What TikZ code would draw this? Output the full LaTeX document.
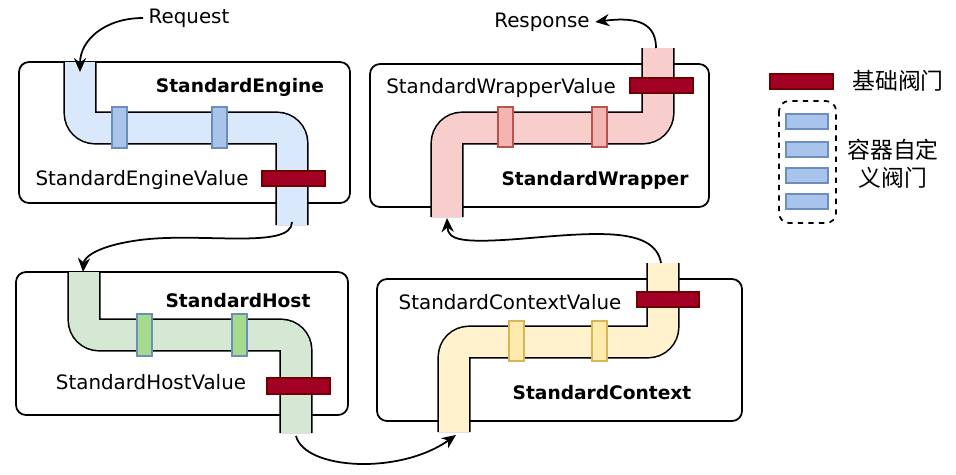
\documentclass[tikz,border=0pt]{standalone}
\usepackage{fontspec}
\setmainfont{DejaVu Sans}
\newfontfamily\cjk{Noto Sans CJK SC}
\usetikzlibrary{arrows.meta}
\definecolor{engfill}{HTML}{DAE8FC}
\definecolor{engvalve}{HTML}{A9C4EB}
\definecolor{engline}{HTML}{6C8EBF}
\definecolor{hostfill}{HTML}{D5E8D4}
\definecolor{hostvalve}{HTML}{A6DB8E}
\definecolor{ctxfill}{HTML}{FFF2CC}
\definecolor{ctxvalve}{HTML}{FFEAAE}
\definecolor{ctxline}{HTML}{D6B656}
\definecolor{wrapfill}{HTML}{F8CECC}
\definecolor{wrapvalve}{HTML}{F4B4B2}
\definecolor{wrapline}{HTML}{B85450}
\definecolor{basefill}{HTML}{A20025}
\definecolor{baseline}{HTML}{6F0000}
\newcommand{\pipe}[2]{\draw[pipeedge] #2; \draw[pipebody,#1] #2;}

\begin{document}
\begin{tikzpicture}[x=0.02cm,y=-0.02cm,>={Stealth[length=8pt,width=7pt]},
  box/.style={draw,line width=1pt,rounded corners=0.2cm,fill=white},
  pipeedge/.style={line width=18.8pt,rounded corners=0.3cm},
  pipebody/.style={line width=17pt,rounded corners=0.3cm},
  valve/.style={line width=0.9pt},
  basevalve/.style={line width=0.9pt,fill=basefill,draw=baseline},
  lbl/.style={font=\fontsize{11.3}{13}\selectfont,inner sep=0pt},
  title/.style={font=\fontsize{10.6}{13}\selectfont\bfseries,inner sep=0pt},
  flow/.style={->,line width=1pt}]
\useasboundingbox (0,0) rectangle (956,474);

\draw[box] (19,62) rectangle (350,203);
\draw[box] (370,64) rectangle (709,207);
\draw[box] (16,272) rectangle (348,415);
\draw[box] (377,279) rectangle (742,421);

\pipe{engfill}{(80,62) -- (80,128) -- (292,128) -- (292,225)}
\pipe{wrapfill}{(447,217) -- (447,128) -- (658,128) -- (658,48)}
\pipe{hostfill}{(84,272) -- (84,335) -- (296,335) -- (296,433)}
\pipe{ctxfill}{(454,432) -- (454,342) -- (663,342) -- (663,263)}

\foreach \x in {112,212} \draw[valve,fill=engvalve,draw=engline] (\x,107) rectangle ++(15,41);
\foreach \x in {498,592} \draw[valve,fill=wrapvalve,draw=wrapline] (\x,107) rectangle ++(15,40);
\foreach \x in {137,232} \draw[valve,fill=hostvalve,draw=engline] (\x,314) rectangle ++(15,42);
\foreach \x in {509,592} \draw[valve,fill=ctxvalve,draw=ctxline] (\x,321) rectangle ++(15,40);

\draw[basevalve] (262,171) rectangle (325,186);
\draw[basevalve] (630,78) rectangle (693,93);
\draw[basevalve] (267,378) rectangle (330,394);
\draw[basevalve] (637,292) rectangle (699,307);

\node[title] (engName) at (240,87) {StandardEngine};
\node[lbl] (engValve) at (142,180) {StandardEngineValue};
\node[lbl] (wrapValve) at (501,88) {StandardWrapperValue};
\node[title] (wrapName) at (595,180) {StandardWrapper};
\node[title] (hostName) at (238,301) {StandardHost};
\node[lbl] (hostValve) at (151,382) {StandardHostValue};
\node[lbl] (ctxValve) at (510,302) {StandardContextValue};
\node[title] (ctxName) at (602,393) {StandardContext};

% request / response
\node[lbl] (req) at (189,18) {Request};
\node[lbl] (res) at (542,22) {Response};

\coordinate (engIn) at (80,72);
\coordinate (engOut) at (292,222);
\coordinate (hostIn) at (83,272);
\coordinate (hostOut) at (296,436);
\coordinate (ctxIn) at (456,435);
\coordinate (ctxOut) at (661,263);
\coordinate (wrapIn) at (447,218);
\coordinate (wrapOut) at (656,48);

\draw[flow] ([xshift=-3pt]req.west) .. controls (105,18) and (80,40) .. (engIn);
\draw[flow] (engOut) .. controls (292,250) and (200,232) .. (140,240) .. controls (95,246) and (84,258) .. (hostIn);
\draw[flow] (hostOut) .. controls (305,470) and (400,475) .. (ctxIn);
\draw[flow] (ctxOut) .. controls (655,228) and (600,232) .. (530,238) .. controls (460,244) and (448,240) .. (wrapIn);
\draw[flow] (wrapOut) .. controls (656,25) and (640,16) .. ([xshift=3pt]res.east);

% legend
\draw[basevalve] (770,74) rectangle (833,89);
\node[font=\cjk\fontsize{13}{16}\selectfont,inner sep=0pt] (baseKey) at (898,81) {基础阀门};
\draw[dashed,line width=1pt,rounded corners=0.2cm] (779,101) rectangle (836,223);
\foreach \y in {114,142,168,194} \draw[valve,fill=engvalve,draw=engline] (786,\y) rectangle ++(42,15);
\node[font=\cjk\fontsize{13}{16}\selectfont,inner sep=0pt,align=center] (customKey) at (893,164) {容器自定\\义阀门};
\end{tikzpicture}
\end{document}
